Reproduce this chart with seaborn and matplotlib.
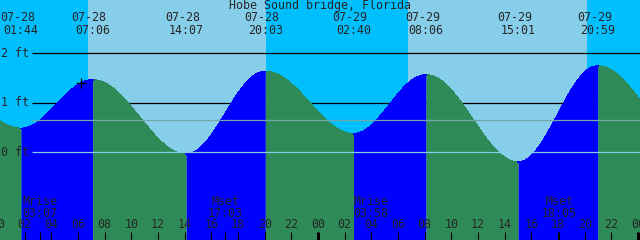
import numpy as np
import pandas as pd
import matplotlib
matplotlib.use("Agg")
import matplotlib.pyplot as plt
import seaborn as sns
from matplotlib.transforms import blended_transform_factory

# ---------------- data ----------------
title = "Hobe Sound bridge, Florida"

# visible tide extremes (labelled at top)
tide_dates = ["07-28", "07-28", "07-28", "07-28", "07-29", "07-29", "07-29", "07-29"]
tide_times = ["01:44", "07:06", "14:07", "20:03", "02:40", "08:06", "15:01", "20:59"]
tide_heights = [0.48, 1.46, -0.04, 1.63, 0.37, 1.56, -0.20, 1.74]

# extremes just outside the window (for the curve ends)
prev_date, prev_time, prev_height = "07-27", "19:00", 1.60
next_date, next_time, next_height = "07-30", "03:30", 0.30

# sun (background day/night)
sunrise = [("07-28", "06:44"), ("07-29", "06:47")]
sunset = [("07-28", "20:08"), ("07-29", "20:09")]

# moon events (bottom labels)
moon_labels = ["Mrise", "Mset", "Mrise", "Mset"]
moon_dates = ["07-28", "07-28", "07-29", "07-29"]
moon_times = ["03:07", "17:03", "03:58", "18:05"]

# current-time mark
now_date, now_time = "07-28", "06:13"

# axis levels
level_values = [0, 1, 2]
level_labels = ["0 ft", "1 ft", "2 ft"]
msl_level = 0.65

hour_ticks = list(range(0, 49, 2))
hour_labels = [f"{h % 24:02d}" for h in hour_ticks]

# ---------------- helpers ----------------
def to_hours(d, t):
    day = int(d.split("-")[1]) - 28
    hh, mm = t.split(":")
    return 24 * day + int(hh) + int(mm) / 60.0

t0, t1 = 0.15, 48.15
y0, y1 = -1.772, 3.077

ev_t = [to_hours(prev_date, prev_time)] + [to_hours(d, t) for d, t in zip(tide_dates, tide_times)] + [to_hours(next_date, next_time)]
ev_h = [prev_height] + tide_heights + [next_height]

def tide_at(t):
    for i in range(len(ev_t) - 1):
        a, b = ev_t[i], ev_t[i + 1]
        if a <= t <= b:
            f = (t - a) / (b - a)
            return ev_h[i] + (ev_h[i + 1] - ev_h[i]) * (1 - np.cos(np.pi * f)) / 2
    return np.nan

# ---------------- figure ----------------
sns.set_style("white")
plt.rcParams["font.family"] = ["DejaVu Sans Mono", "DejaVu Sans"]
fig = plt.figure(figsize=(6.4, 2.4), dpi=100)
ax = fig.add_axes([0, 0, 1, 1])

DAY, NIGHT = "#87CEEB", "#00BFFF"
FLOOD, EBB = "#0000FF", "#2E8B57"

# background
ax.axvspan(t0, t1, color=DAY, zorder=0, lw=0)
sr = [to_hours(*s) for s in sunrise]
ss = [to_hours(*s) for s in sunset]
nights = [(t0, sr[0]), (ss[0], sr[1]), (ss[1], t1)]
for a, b in nights:
    ax.axvspan(a, b, color=NIGHT, zorder=0.5, lw=0)

line_start = t0 + 32 / 640 * (t1 - t0)
# black level lines (behind the tide)
for v in level_values:
    if v > 0:
        ax.hlines(v, line_start, t1, color="black", lw=0.9, zorder=1)

# tide curve segments
rows = []
for i in range(len(ev_t) - 1):
    a, b = max(ev_t[i], t0 - 0.5), min(ev_t[i + 1], t1 + 0.5)
    if a >= b:
        continue
    ts = np.linspace(a, b, 200)
    hs = np.array([tide_at(t) for t in ts])
    rising = ev_h[i + 1] > ev_h[i]
    ax.fill_between(ts, y0, hs, color=FLOOD if rising else EBB, lw=0, zorder=2,
                    antialiased=False)
    for t, h in zip(ts, hs):
        rows.append({"t": t, "h": h, "phase": "flood" if rising else "ebb", "seg": i})
df = pd.DataFrame(rows)
sns.lineplot(data=df, x="t", y="h", hue="phase", units="seg", estimator=None,
             palette={"flood": FLOOD, "ebb": EBB}, lw=0.6, legend=False, ax=ax,
             zorder=2.5, antialiased=False)
ax.set_xlim(t0, t1)
ax.set_ylim(y0, y1)
ax.set_axis_off()

# datum & msl lines over the tide
ax.hlines(0, line_start, t1, color="#87CEEB", lw=0.9, zorder=3)
ax.hlines(msl_level, line_start, t1, color="#70A8A8", lw=0.9, zorder=3)

# level labels
for v, lab in zip(level_values, level_labels):
    ax.text(0.002, v, lab, transform=blended_transform_factory(ax.transAxes, ax.transData),
            ha="left", va="center", fontsize=8.4, zorder=5)

# current-time mark
tn = to_hours(now_date, now_time)
ax.plot([tn], [tide_at(tn)], marker="+", color="black", ms=7, mew=0.9, zorder=4)

bt = blended_transform_factory(ax.transData, ax.transAxes)
# bottom ticks
for h in hour_ticks:
    ax.vlines(h, 0, 8 / 240, transform=bt, color="black",
              lw=2.2 if h % 24 == 0 else 0.8, zorder=4)
for h, lab in zip(hour_ticks, hour_labels):
    ax.text(h, 15 / 240, lab, transform=bt, ha="center", va="center", fontsize=8.4, zorder=5)

# moon events
for lab, d, t in zip(moon_labels, moon_dates, moon_times):
    th = to_hours(d, t)
    ax.vlines(th, 0, 8 / 240, transform=bt, color="black", lw=0.8, zorder=4)
    ax.text(th, (240 - 201.5) / 240, lab, transform=bt, ha="center", va="center", fontsize=8.4, zorder=5)
    ax.text(th, (240 - 213.5) / 240, t, transform=bt, ha="center", va="center", fontsize=8.4, zorder=5)

# top labels
px_h = (t1 - t0) / 640
for d, t in zip(tide_dates, tide_times):
    th = to_hours(d, t)
    ax.text(th - 3.5 * px_h, (240 - 17.5) / 240, d, transform=bt, ha="center", va="center", fontsize=8.4, zorder=5)
    ax.text(th, (240 - 30) / 240, t, transform=bt, ha="center", va="center", fontsize=8.4, zorder=5)

fig.text(0.5, (240 - 6) / 240, title, ha="center", va="center", fontsize=8.4)

fig.savefig("out.png", dpi=100)
